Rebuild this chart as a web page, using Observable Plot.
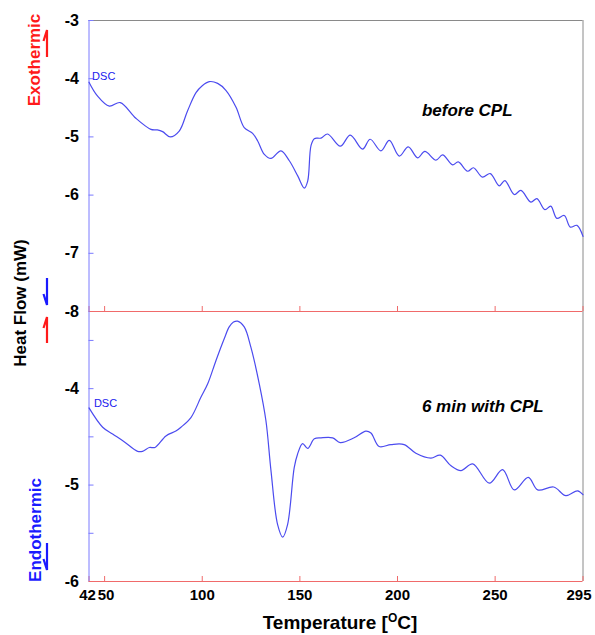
<!DOCTYPE html>
<html><head><meta charset="utf-8">
<script src="https://cdn.jsdelivr.net/npm/d3@7"></script>
<script src="https://cdn.jsdelivr.net/npm/@observablehq/plot@0.6"></script>
<style>
body{margin:0;background:#fff;}
#wrap{position:relative;width:595px;height:635px;overflow:hidden;font-family:"Liberation Sans",Arial,sans-serif;}
#wrap svg{position:absolute;left:0;}
</style></head><body><div id="wrap"></div>
<script>
// ---- data ----
const beforeT = [42,46.2,52.4,58,66,73.7,77,79.7,83.6,88.2,92.5,96.8,100,103.6,107.9,112.1,117.3,121.5,125.8,128.4,131.8,135.2,140.3,144.6,148.9,152.3,154,155.7,157.4,160.8,164.2,170.7,175.8,182.1,186,191.5,195.8,200.9,205.5,210.3,214,219.7,223.1,228.2,231.1,235.9,238.9,243.5,247.5,252.1,255,259.8,263.2,268.3,271.4,275.5,278.5,281.6,285.4,288.5,291.9,295];
const beforeV = [-4.06,-4.29,-4.47,-4.41,-4.68,-4.87,-4.88,-4.91,-5.00,-4.90,-4.55,-4.24,-4.12,-4.05,-4.08,-4.20,-4.49,-4.84,-4.94,-5.07,-5.30,-5.37,-5.24,-5.41,-5.67,-5.88,-5.76,-5.15,-5.03,-5.02,-4.95,-5.16,-4.97,-5.21,-5.04,-5.24,-5.06,-5.33,-5.17,-5.36,-5.25,-5.40,-5.31,-5.48,-5.43,-5.59,-5.53,-5.69,-5.63,-5.84,-5.75,-5.99,-5.92,-6.12,-6.06,-6.25,-6.19,-6.40,-6.35,-6.55,-6.52,-6.71];
const afterT = [42,49,54.1,60,66.9,69.4,72.9,75.8,81.4,86.5,89.1,94.2,99.3,102.8,107,111.3,113.8,116,118.1,121.5,124.9,129.2,132.6,135.2,138.6,141.2,143.7,147.1,148.8,151.4,154,157.4,160.8,166.8,170.7,177.8,183.8,186.4,190.6,196.6,203.4,209.4,217.1,221.9,227.4,232.5,238.5,247,253.8,259.8,267,271.8,280,286.2,292.2,295];
const afterV = [-4.20,-4.40,-4.47,-4.55,-4.65,-4.65,-4.61,-4.61,-4.49,-4.44,-4.40,-4.30,-4.09,-3.95,-3.71,-3.48,-3.36,-3.31,-3.30,-3.36,-3.57,-3.95,-4.33,-4.85,-5.41,-5.54,-5.41,-4.82,-4.68,-4.57,-4.62,-4.52,-4.51,-4.51,-4.56,-4.51,-4.44,-4.46,-4.60,-4.58,-4.58,-4.67,-4.72,-4.69,-4.80,-4.85,-4.78,-4.98,-4.84,-5.05,-4.92,-5.05,-5.02,-5.11,-5.06,-5.10];
const xTicks = [42,50,100,150,200,250,295];
const topYTicks = [-3,-4,-5,-6,-7,-8];
const botYTicks = [-3.5,-4,-4.5,-5,-5.5,-6];
const botYLabels = [-4,-5,-6];
const panelTitles = ["before CPL","6 min with CPL"];
const curveName = "DSC";

const before = beforeT.map((t,i)=>({T:t, v:beforeV[i]}));
const after = afterT.map((t,i)=>({T:t, v:afterV[i]}));

const lineC = "#4b4bef", axisBlue = "#7a7aff", axisRed = "#f06a6a", grayC = "#8a8a8a";
const baseStyle = {background:"transparent", fontFamily:"Liberation Sans, Arial, sans-serif", fontSize:"16px", fontWeight:"bold", color:"black", overflow:"visible"};
const wrap = document.getElementById("wrap");

const topPlot = Plot.plot({
  width:595, height:320, marginLeft:88.5, marginRight:12.5, marginTop:20, marginBottom:9,
  style: baseStyle,
  x:{domain:[42,295]}, y:{domain:[-8,-3]},
  marks:[
    Plot.ruleY([-3],{stroke:grayC}),
    Plot.ruleX([295],{stroke:grayC}),
    Plot.axisX(xTicks,{anchor:"bottom", tickSize:-5, stroke:axisRed, tickFormat:()=>"", label:null}),
    Plot.axisY(topYTicks,{anchor:"left", tickSize:-5, tickPadding:15, stroke:axisBlue, fill:"black", tickFormat:d=>String(d), label:null}),
    Plot.ruleX([42],{stroke:axisBlue}),
    Plot.line(before,{x:"T", y:"v", stroke:lineC, strokeWidth:1.2, curve:"catmull-rom"}),
    Plot.text([panelTitles[0]],{x:[212.5], y:[-4.55], text:d=>d, textAnchor:"start", fontSize:17, fontStyle:"italic", fontWeight:"bold", fill:"black"}),
    Plot.text([curveName],{x:[43.6], y:[-3.96], text:d=>d, textAnchor:"start", fontSize:11, fontWeight:"normal", fontFamily:"Liberation Sans Narrow, Arial Narrow, sans-serif", fill:"#2020ee"})
  ]
});
topPlot.style.top = "0px";
wrap.appendChild(topPlot);

const fmtX = d => String(d);
const xLab = (vals, dx) => Plot.axisX(vals,{anchor:"bottom", tickSize:0, tickPadding:8, dx, fontSize:15, fill:"black", tickFormat:fmtX, label:null});
const botPlot = Plot.plot({
  width:595, height:335, marginLeft:88.5, marginRight:12.5, marginTop:11, marginBottom:54,
  style: baseStyle,
  x:{domain:[42,295]}, y:{domain:[-6,-3.2]},
  marks:[
    Plot.ruleX([295],{stroke:grayC}),
    Plot.axisX(xTicks,{anchor:"bottom", tickSize:-5, stroke:axisRed, tickFormat:()=>"", label:null}),
    xLab(xTicks.slice(0,1), -1.5),
    xLab(xTicks.slice(1,2), 1.5),
    xLab(xTicks.slice(2,-1), 0),
    xLab(xTicks.slice(-1), -4),
    Plot.axisY(botYTicks,{anchor:"left", tickSize:-5, tickPadding:15, stroke:axisBlue, fill:"black", tickFormat:d=>botYLabels.includes(d)?String(d):"", label:null}),
    Plot.ruleY([-3.2],{stroke:axisRed}),
    Plot.ruleY([-6],{stroke:axisRed}),
    Plot.ruleX([42],{stroke:axisBlue}),
    Plot.line(after,{x:"T", y:"v", stroke:lineC, strokeWidth:1.2, curve:"catmull-rom"}),
    Plot.text([panelTitles[1]],{x:[212.5], y:[-4.19], text:d=>d, textAnchor:"start", fontSize:17, fontStyle:"italic", fontWeight:"bold", fill:"black"}),
    Plot.text([curveName],{x:[44.5], y:[-4.15], text:d=>d, textAnchor:"start", fontSize:11, fontWeight:"normal", fontFamily:"Liberation Sans Narrow, Arial Narrow, sans-serif", fill:"#2020ee"})
  ]
});
botPlot.style.top = "300px";
wrap.appendChild(botPlot);

// ---- overlay: axis titles and direction arrows ----
const ov = d3.select(wrap).append("svg").attr("width",595).attr("height",635).style("top","0px")
  .style("font-family","Liberation Sans, Arial, sans-serif").style("font-weight","bold");
ov.append("text").attr("transform","translate(26,303) rotate(-90)").attr("text-anchor","middle")
  .attr("font-size",17).attr("fill","black").text("Heat Flow (mW)");
ov.append("text").attr("transform","translate(40,60) rotate(-90)").attr("text-anchor","middle")
  .attr("font-size",17).attr("fill","#ff1a1a").text("Exothermic");
ov.append("text").attr("transform","translate(41,530) rotate(-90)").attr("text-anchor","middle")
  .attr("font-size",17).attr("fill","#1a1aff").text("Endothermic");
function arrow(x, tail, tip, color){
  const dir = tip < tail ? 1 : -1;
  ov.append("path").attr("d",`M${x},${tail}L${x},${tip}L${x-3.5},${tip+dir*11}`)
    .attr("fill","none").attr("stroke",color).attr("stroke-width",2.2);
}
arrow(47,57,30,"#ff1a1a");
arrow(47,278,305,"#1a1aff");
arrow(47,343,317,"#ff1a1a");
arrow(47,543,570,"#1a1aff");
const xl = ov.append("text").attr("x",340).attr("y",629).attr("text-anchor","middle").attr("font-size",19).attr("fill","black");
xl.append("tspan").text("Temperature [");
xl.append("tspan").attr("font-size",12).attr("dy",-7).text("O");
xl.append("tspan").attr("dy",7).text("C]");
</script></body></html>
